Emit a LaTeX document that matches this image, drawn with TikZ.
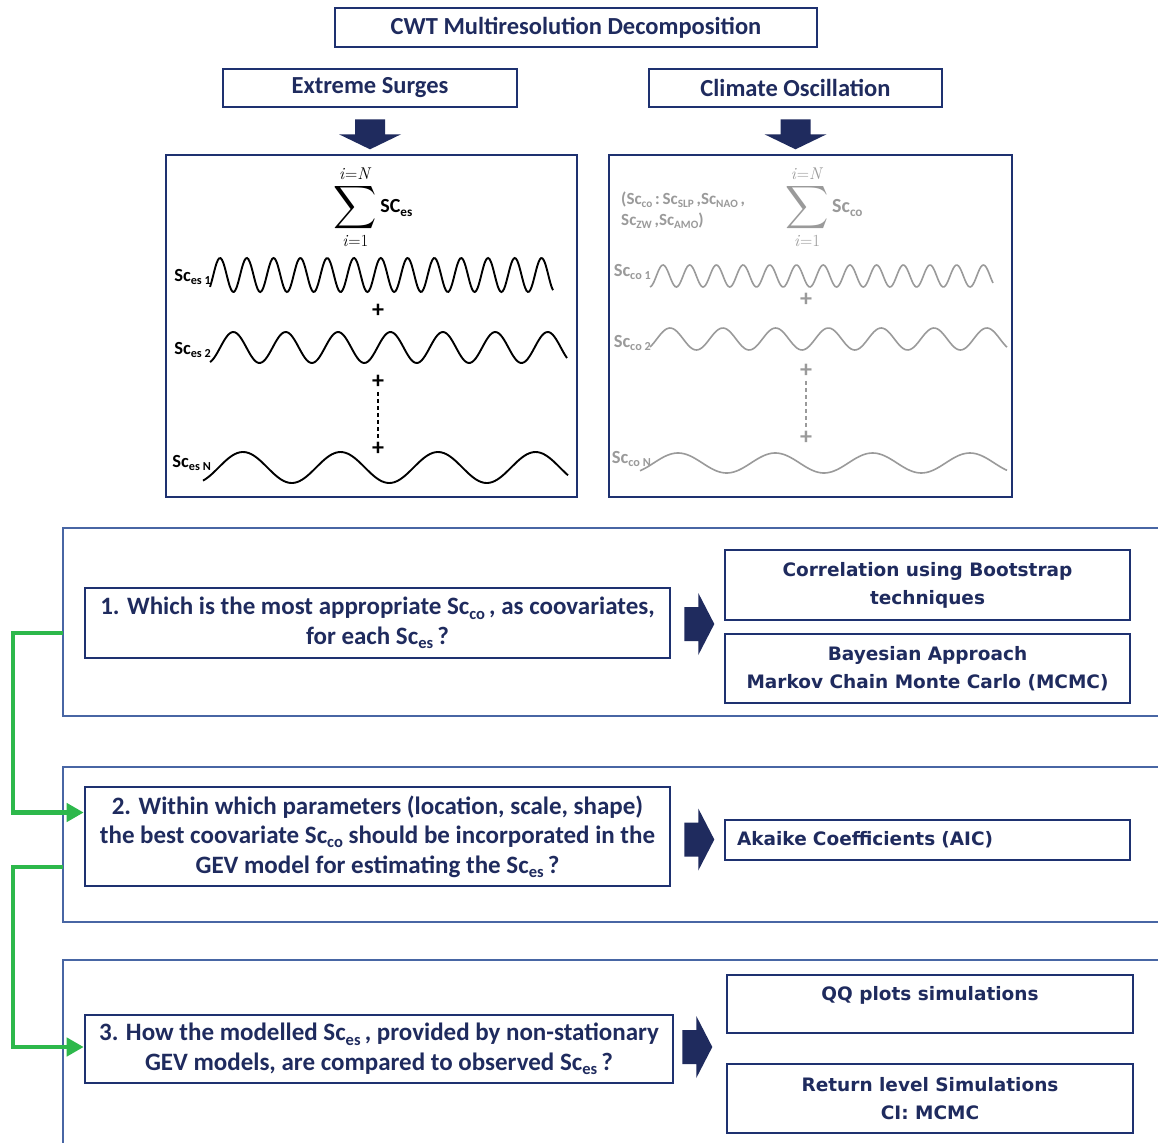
\documentclass[tikz,border=0pt]{standalone}
\usepackage{amsmath}
\usepackage{fontspec}
\usepackage{graphicx}
\setmainfont{Carlito}
\newfontfamily\widefont{DejaVu Sans}
\newfontfamily\lmserif{Latin Modern Roman}
\usetikzlibrary{arrows.meta,calc}
\definecolor{navy}{HTML}{1F2B5E}
\definecolor{boxblue}{HTML}{1E3170}
\definecolor{outerblue}{HTML}{4866A4}
\definecolor{grn}{HTML}{2DB84B}
\definecolor{gry}{HTML}{9A9A9A}
\newcommand\sbs[1]{\raisebox{-0.35ex}{\scalebox{0.66}{#1}}}
\newcommand\limtxt[1]{\mbox{\lmserif\mdseries\fontsize{17}{17}\selectfont\textit{i}=#1}}
\newcommand\bigsum{\mathop{\vcenter{\hbox{\scalebox{1.45}{$\displaystyle\sum$}}}}\limits_{\limtxt{1}}^{\limtxt{\textit{N}}}}
\newcommand\dnarrowat[1]{\fill[navy] ($(#1)+(-15,11)$) -- ++(30,0) -- ++(0,15) -- ++(16,0) -- ++(-31,15) -- ++(-31,-15) -- ++(16,0) -- cycle;}
\newcommand\rtarrowat[1]{\fill[navy] ($(#1)+(0,-17)$) -- ++(14,0) -- ++(0,-14) -- ++(16,31) -- ++(-16,31) -- ++(0,-14) -- ++(-14,0) -- cycle;}
\begin{document}
\begin{tikzpicture}[x=1pt,y=-1pt,
  box/.style={draw=boxblue, line width=2.6pt, inner sep=0pt, align=center, text=navy,
    font=\bfseries\fontsize{24.5}{29.5}\selectfont},
  qbox/.style={box, font=\bfseries\fontsize{25}{29.5}\selectfont},
  rbox/.style={box, font=\widefont\bfseries\fontsize{18.5}{28}\selectfont},
  panel/.style={draw=boxblue, line width=2pt},
  outer/.style={draw=outerblue, line width=2.4pt},
  wave/.style={line width=1.9pt, black, smooth},
  gwave/.style={line width=1.6pt, gry, smooth},
  lab/.style={anchor=east, inner sep=0pt, font=\bfseries\fontsize{18.5}{20}\selectfont},
  glab/.style={lab, text=gry},
  plus/.style={inner sep=0pt, font=\bfseries\fontsize{24}{24}\selectfont},
  gplus/.style={plus, text=gry},
  link/.style={draw=grn, line width=4.5pt, -{Triangle[length=17pt,width=18pt]}}
]
\useasboundingbox (0,0) rectangle (1158,1142);
\fill[white] (0,0) rectangle (1158,1142);

% header
\node[box, minimum width=482, minimum height=39] (cwt) at (576,27.5) {CWT Multiresolution Decomposition};
\node[box, minimum width=294, minimum height=38] (es) at (370,88) {Extreme Surges};
\node[box, minimum width=293, minimum height=38] (co) at (795.5,88) {Climate Oscillation};

% panels
\node[panel, minimum width=411, minimum height=342] (pes) at (371.5,326) {};
\node[panel, minimum width=403, minimum height=342] (pco) at (810.5,326) {};

\dnarrowat{es.south}
\dnarrowat{co.south}

% left panel content
\node[inner sep=0pt, font=\bfseries\fontsize{20}{24}\selectfont] (sumes) at (373,207)
  {$\bigsum$\,SC\sbs{es}};
\node[lab] (l1) at (211,277) {Sc\sbs{es 1}};
\node[lab] (l2) at (211,350) {Sc\sbs{es 2}};
\node[lab] (l3) at (211,463) {Sc\sbs{es N}};
\draw[wave] plot[domain=210:553, samples=260] (\x, {275 - 17*cos((\x-220)/26.8*360)});
\draw[wave] plot[domain=210:567, samples=200] (\x, {347.5 - 15.5*cos((\x-233.3)/52.4*360)});
\draw[wave] plot[domain=203:568, samples=160] (\x, {467.5 - 15.5*cos((\x-243)/97.5*360)});
\node[plus] (pa) at (378,311) {+};
\node[plus] (pb) at (378,382) {+};
\node[plus] (pc) at (378,449) {+};
\draw[line width=1.5pt, dash pattern=on 4pt off 3pt, shorten <=3pt, shorten >=3pt] (pb) -- (pc);

% right panel content
\node[anchor=west, align=left, inner sep=0pt, text=gry, font=\bfseries\fontsize{17}{21}\selectfont] (colist) at (621,210)
  {(Sc\sbs{co}\,:\,Sc\sbs{SLP}\,,Sc\sbs{NAO}\,,\\Sc\sbs{ZW}\,,Sc\sbs{AMO})};
\node[inner sep=0pt, text=gry, font=\bfseries\fontsize{20}{24}\selectfont] (sumco) at (824,207)
  {$\bigsum$\,Sc\sbs{co}};
\node[glab] (g1) at (651,272) {Sc\sbs{co 1}};
\node[glab] (g2) at (651,343) {Sc\sbs{co 2}};
\node[glab] (g3) at (651,459) {Sc\sbs{co N}};
\draw[gwave] plot[domain=650:993, samples=260] (\x, {276 - 11*cos((\x-663)/26.7*360)});
\draw[gwave] plot[domain=650:1007, samples=200] (\x, {339 - 11*cos((\x-670)/52.8*360)});
\draw[gwave] plot[domain=640:1007, samples=160] (\x, {463 - 10*cos((\x-678)/97.3*360)});
\node[gplus] (qa) at (806,300) {+};
\node[gplus] (qb) at (806,371) {+};
\node[gplus] (qc) at (806,438) {+};
\draw[gry, line width=1.5pt, dash pattern=on 4pt off 3pt, shorten <=3pt, shorten >=3pt] (qb) -- (qc);

% outer frames
\draw[outer] (1160,528) -- (63,528) -- (63,716) -- (1160,716);
\draw[outer] (1160,767) -- (63,767) -- (63,922) -- (1160,922);
\draw[outer] (1160,960) -- (63,960) -- (63,1145);
\coordinate (o1) at (63,633);
\coordinate (o2) at (63,867);

% questions
\node[qbox, minimum width=585, minimum height=70] (q1) at (377.5,623)
  {1. Which is the most appropriate Sc\sbs{co}\,, as coovariates,\\for each Sc\sbs{es}\,?};
\node[qbox, minimum width=585, minimum height=99] (q2) at (377.5,836.5)
  {2. Within which parameters (location, scale, shape)\\the best coovariate Sc\sbs{co} should be incorporated in the\\GEV model for estimating the Sc\sbs{es}\,?};
\node[qbox, minimum width=588, minimum height=68] (q3) at (379,1049)
  {3. How the modelled Sc\sbs{es}\,, provided by non-stationary\\GEV models, are compared to observed Sc\sbs{es}\,?};

% methods
\node[rbox, minimum width=405, minimum height=70] (corr) at (927.5,585) {Correlation using Bootstrap\\techniques};
\node[rbox, minimum width=405, minimum height=69] (bayes) at (927.5,668.5) {Bayesian Approach\\Markov Chain Monte Carlo (MCMC)};
\node[rbox, minimum width=405, minimum height=40, text width=381pt, align=left, inner xsep=12pt] (aic) at (927.5,840) {Akaike Coefficients (AIC)};
\node[rbox, minimum width=406, minimum height=58, text depth=22pt] (qq) at (930,1004) {QQ plots simulations};
\node[rbox, minimum width=406, minimum height=69] (rl) at (930,1098.5) {Return level Simulations\\CI: MCMC};

\rtarrowat{$(q1.east)+(13,1)$}
\rtarrowat{$(q2.east)+(13,3)$}
\rtarrowat{$(q3.east)+(8,-2)$}

% green links
\draw[link] (o1) -- ++(-50,0) |- ([yshift=24pt]q2.west);
\draw[link] (o2) -- ++(-50,0) |- ([yshift=2pt]q3.west);
\end{tikzpicture}
\end{document}
